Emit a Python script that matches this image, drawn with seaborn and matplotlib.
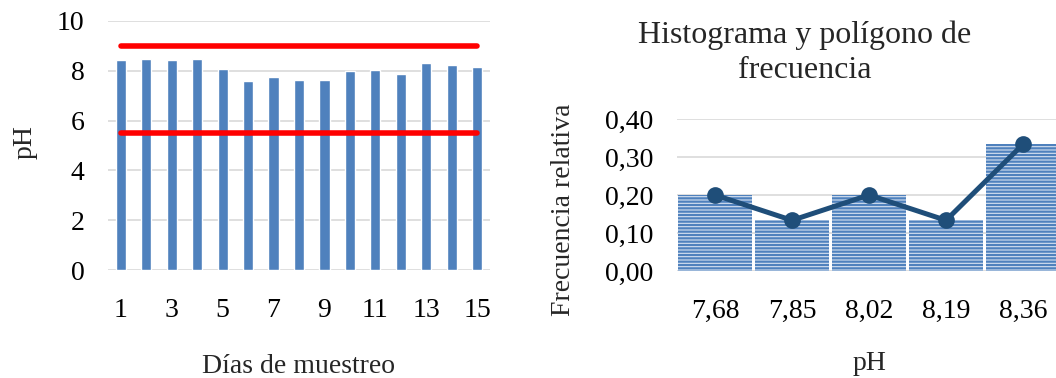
import matplotlib
matplotlib.use("Agg")
import matplotlib.pyplot as plt
from matplotlib.ticker import FuncFormatter, MultipleLocator
import seaborn as sns
import pandas as pd

# Daily pH readings over the sampling period
dias = list(range(1, 16))
ph = [8.43, 8.46, 8.44, 8.46, 8.08, 7.58, 7.77, 7.65, 7.64, 8.00, 8.04, 7.89, 8.32, 8.24, 8.16]
limites = [9.0, 5.5]  # upper and lower permitted pH

# Frequency table
clases = ["7,68", "7,85", "8,02", "8,19", "8,36"]
frec_rel = [3 / 15, 2 / 15, 3 / 15, 2 / 15, 5 / 15]

sns.set_theme(style="white")
plt.rcParams["font.family"] = ["Liberation Serif", "DejaVu Serif"]
plt.rcParams["hatch.linewidth"] = 1.6

W, H = 1056, 378
fig = plt.figure(figsize=(W / 100, H / 100), dpi=100)

def box(x0, y0, x1, y1):
    return [x0 / W, 1 - y1 / H, (x1 - x0) / W, (y1 - y0) / H]

def fy(y):
    return 1 - y / H

grid_c = "#d9d9d9"
fs = 20

# ---- daily pH bars ----
ax1 = fig.add_axes(box(108, 21, 490, 270))
df1 = pd.DataFrame({"dia": dias, "ph": ph})
sns.barplot(data=df1, x="dia", y="ph", color="#4f81bd", saturation=1, width=0.4,
            ax=ax1, zorder=2)
ax1.set_ylim(0, 10)
ax1.set_xlim(-0.5, len(dias) - 0.5)
ax1.yaxis.set_major_locator(MultipleLocator(2))
ax1.yaxis.grid(True, color=grid_c, lw=1.2, zorder=0)
ax1.set_axisbelow(True)
for v in limites:
    ax1.hlines(v, 0, len(dias) - 1, color="#ff0000", lw=4, capstyle="round", zorder=3)
ax1.set_xticks(range(0, len(dias), 2))
ax1.set_xticklabels([str(d) for d in dias[::2]])
for s in ax1.spines.values():
    s.set_visible(False)
ax1.tick_params(length=0, labelsize=fs, colors="black")
ax1.tick_params(axis="x", pad=20)
ax1.tick_params(axis="y", pad=17)
ax1.set_xlabel("")
ax1.set_ylabel("")
fig.text(299 / W, fy(373), "Días de muestreo", ha="center", va="baseline", fontsize=fs)
fig.text(25 / W, fy(142), "pH", ha="center", va="center", rotation=90, fontsize=fs)

# ---- histogram and frequency polygon ----
ax2 = fig.add_axes(box(676.5, 119, 1061.5, 271))
df2 = pd.DataFrame({"clase": clases, "fr": frec_rel})
sns.barplot(data=df2, x="clase", y="fr", color="#d6e1f0", saturation=1, width=0.97,
            ax=ax2, zorder=2)
for p in ax2.patches:
    p.set_hatch("-----")
    p.set_edgecolor("#4f81bd")
    p.set_linewidth(0)
sns.pointplot(data=df2, x="clase", y="fr", color="#1f4e79", markers="o",
              linestyles="-", ax=ax2, zorder=4)
for ln in ax2.lines:
    ln.set_linewidth(3.6)
    ln.set_markersize(10)
for c in ax2.collections:
    c.set_sizes([100])
ax2.set_ylim(0, 0.40)
ax2.set_xlim(-0.5, len(clases) - 0.5)
ax2.yaxis.set_major_locator(MultipleLocator(0.1))
ax2.yaxis.set_major_formatter(FuncFormatter(lambda v, _: f"{v:.2f}".replace(".", ",")))
ax2.yaxis.grid(True, color=grid_c, lw=1.2, zorder=0)
ax2.set_axisbelow(True)
for s in ax2.spines.values():
    s.set_visible(False)
ax2.tick_params(length=0, labelsize=fs, colors="black")
ax2.tick_params(axis="x", pad=20)
ax2.tick_params(axis="y", pad=17)
ax2.set_xlabel("")
ax2.set_ylabel("")
fig.text(870 / W, fy(370), "pH", ha="center", va="baseline", fontsize=fs)
fig.text(563 / W, fy(210), "Frecuencia relativa", ha="center", va="center",
         rotation=90, fontsize=fs)
fig.text(805 / W, fy(43), "Histograma y polígono de", ha="center", va="baseline",
         fontsize=23)
fig.text(805 / W, fy(78), "frecuencia", ha="center", va="baseline", fontsize=23)

fig.savefig("out.png", dpi=100)
